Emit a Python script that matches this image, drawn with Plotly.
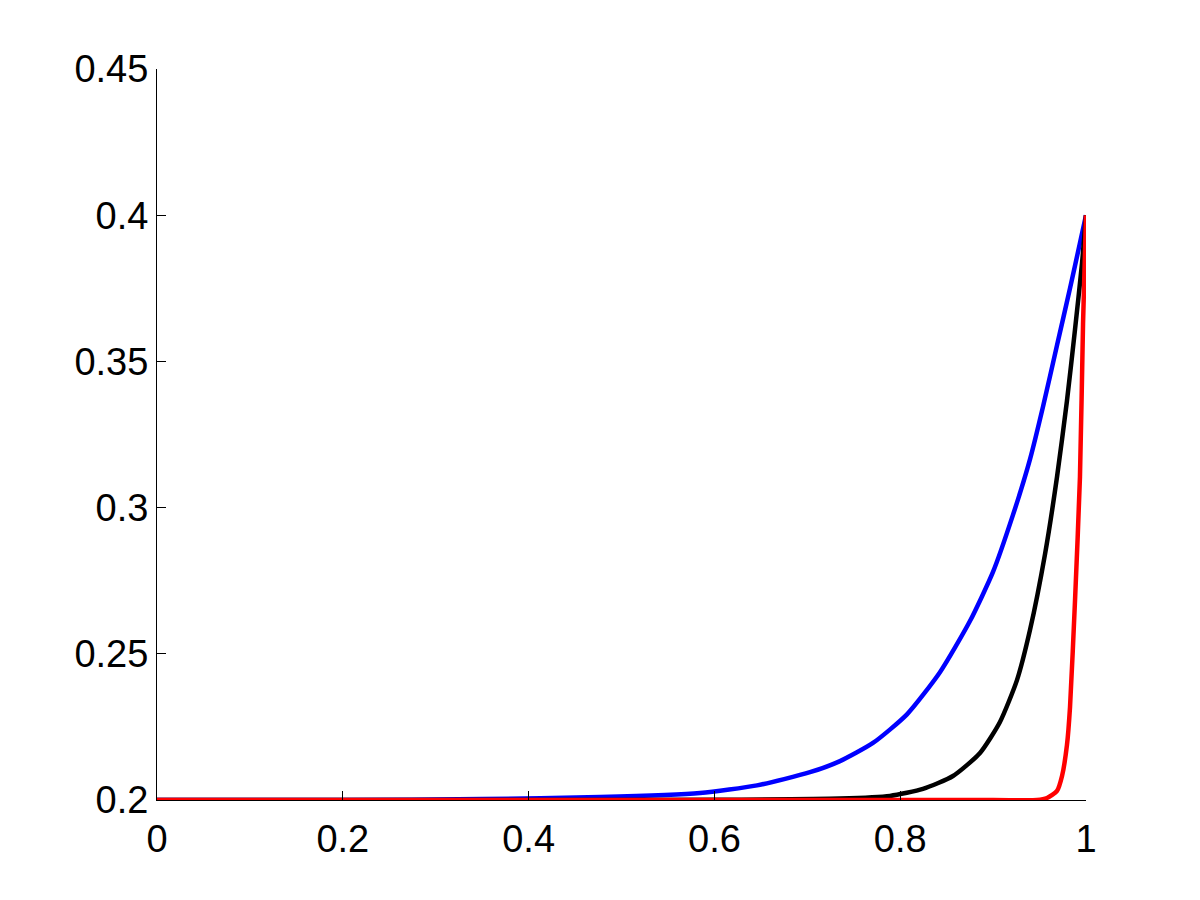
import plotly.graph_objects as go

# Values
blue_x = [0.0, 0.20, 0.35, 0.4769, 0.5845, 0.6459, 0.7029, 0.7352, 0.7707, 0.8073,
          0.8428, 0.8751, 0.8999, 0.9214, 0.9397, 0.9537, 0.9688, 0.9828, 0.9935, 1.0]
blue_y = [0.2000, 0.2000, 0.2003, 0.2010, 0.2024, 0.2050, 0.2095, 0.2133, 0.2195, 0.2293,
          0.2437, 0.2612, 0.2780, 0.2975, 0.3165, 0.3345, 0.3555, 0.3750, 0.3905, 0.4000]

black_x = [0.0, 0.40, 0.60, 0.7352, 0.7890, 0.8245, 0.8568, 0.8859, 0.9074, 0.9257,
           0.9397, 0.9559, 0.9688, 0.9795, 0.9882, 0.9957, 1.0]
black_y = [0.2000, 0.2000, 0.2001, 0.2005, 0.2014, 0.2038, 0.2082, 0.2161, 0.2267, 0.2410,
           0.2581, 0.2841, 0.3105, 0.3365, 0.3610, 0.3835, 0.4000]

red_x = [0.0, 0.90, 0.9473, 0.9580, 0.9688, 0.9742, 0.9795, 0.9828, 0.9882, 0.9935, 0.9968, 1.0]
red_y = [0.2000, 0.2000, 0.2000, 0.2007, 0.2031, 0.2082, 0.2188, 0.2318, 0.2684, 0.3105, 0.3628, 0.4000]

x_ticks = [0, 0.2, 0.4, 0.6, 0.8, 1]
x_labels = ["0", "0.2", "0.4", "0.6", "0.8", "1"]
y_ticks = [0.2, 0.25, 0.3, 0.35, 0.4, 0.45]
y_labels = ["0.2", "0.25", "0.3", "0.35", "0.4", "0.45"]

fig = go.Figure()
for xs, ys, col in [(blue_x, blue_y, "#0000ff"), (black_x, black_y, "#000000"), (red_x, red_y, "#ff0000")]:
    fig.add_trace(go.Scatter(x=xs, y=ys, mode="lines",
                             line=dict(color=col, width=4.5, shape="spline", smoothing=0.6),
                             cliponaxis=False))

font = dict(family="Liberation Sans, Arial, sans-serif", size=38, color="black")
fig.update_layout(
    width=1200, height=900,
    margin=dict(l=149, r=122, t=61, b=108),
    paper_bgcolor="white", plot_bgcolor="white",
    showlegend=False,
    font=font,
)
fig.update_xaxes(range=[0, 1], tickvals=x_ticks, ticktext=x_labels, ticks="inside", ticklen=9,
                 tickcolor="black", showline=True, linecolor="black", linewidth=1,
                 showgrid=False, zeroline=False, tickfont=font, ticklabelstandoff=5)
fig.update_yaxes(range=[0.2, 0.45], tickvals=y_ticks, ticktext=y_labels, ticks="inside", ticklen=9,
                 tickcolor="black", showline=True, linecolor="black", linewidth=1,
                 showgrid=False, zeroline=False, tickfont=font)

fig.write_html("out.html")
